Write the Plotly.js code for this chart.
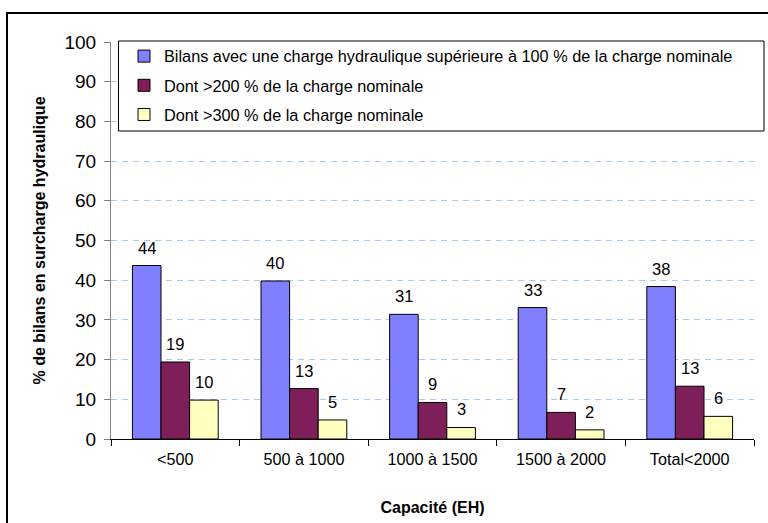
<!DOCTYPE html>
<html>
<head>
<meta charset="utf-8">
<script src="https://cdn.plot.ly/plotly-3.0.1.min.js"></script>
<style>
html,body{margin:0;padding:0;overflow:hidden;background:#fff;}
#chart{position:absolute;left:0;top:0;width:768px;height:523px;}
#frame{position:absolute;left:6px;top:12px;width:800px;height:600px;border:2px solid #000;pointer-events:none;}
</style>
</head>
<body>
<div id="chart"></div>
<div id="frame"></div>
<script>
const categories = ['<500', '500 à 1000', '1000 à 1500', '1500 à 2000', 'Total<2000'];
const seriesNames = [
  'Bilans avec une charge hydraulique supérieure à 100 % de la charge nominale',
  'Dont >200 % de la charge nominale',
  'Dont >300 % de la charge nominale'
];
const over100 = [43.7, 39.8, 31.4, 33.1, 38.4];
const over200 = [19.4, 12.7, 9.2, 6.7, 13.3];
const over300 = [9.8, 4.8, 2.9, 2.3, 5.7];
const colors = ['#8080FF', '#7F1F5A', '#FFFFC0'];

const seriesValues = [over100, over200, over300];
const font = 'Liberation Sans, Arial, sans-serif';

const traces = seriesValues.map((vals, i) => ({
  type: 'bar',
  name: seriesNames[i],
  x: categories,
  y: vals,
  legendgroup: 'g' + i,
  marker: {color: colors[i], line: {color: '#000', width: 1}},
  hoverinfo: 'skip'
}));

const plotL = 111, plotR = 14, plotT = 42, plotB = 84;
const plotW = 768 - plotL - plotR;
const plotH = 523 - plotT - plotB;
const bargap = 0.333;
const barW = plotW / categories.length * (1 - bargap) / 3;

const annotations = [];
seriesValues.forEach((vals, i) => {
  vals.forEach((v, j) => {
    annotations.push({
      x: categories[j], y: v, xref: 'x', yref: 'y',
      text: String(Math.round(v)),
      showarrow: false,
      xshift: (i - 1) * barW,
      yshift: 18,
      yanchor: 'middle',
      font: {family: font, size: 16.5, color: '#000'}
    });
  });
});

// legend frame (decoration), in paper coordinates
const px = v => (v - plotL) / plotW;
const py = v => (523 - plotB - v) / plotH;

const layout = {
  width: 768, height: 523,
  margin: {l: plotL, r: plotR, t: plotT, b: plotB, pad: 0},
  paper_bgcolor: '#fff', plot_bgcolor: '#fff',
  barmode: 'group', bargap: bargap, bargroupgap: 0,
  font: {family: font, color: '#000'},
  showlegend: true,
  legend: {
    x: px(124), y: py(39), xanchor: 'left', yanchor: 'top',
    bgcolor: 'rgba(0,0,0,0)', borderwidth: 0,
    font: {family: font, size: 16.3, color: '#000'},
    traceorder: 'grouped', tracegroupgap: 5
  },
  shapes: [{
    type: 'rect', xref: 'paper', yref: 'paper', layer: 'above',
    x0: px(118.5), x1: px(764), y0: py(131), y1: py(41),
    line: {color: '#000', width: 1}, fillcolor: '#fff'
  }],
  xaxis: {
    type: 'category', range: [-0.5, 4.5],
    tickson: 'boundaries', ticks: 'outside', ticklen: 6, tickcolor: '#000',
    showline: true, linecolor: '#000', linewidth: 1,
    ticklabelstandoff: 6,
    tickfont: {family: font, size: 16.2, color: '#000'},
    title: {text: '<b>Capacité (EH)</b>', font: {family: font, size: 16, color: '#000'}, standoff: 34},
    fixedrange: true
  },
  yaxis: {
    range: [0, 100], dtick: 10, tick0: 0,
    ticks: 'outside', ticklen: 6, tickcolor: '#808080',
    showline: true, linecolor: '#808080', linewidth: 1,
    showgrid: true, gridcolor: '#A8CCF0', griddash: '6px,5px', gridwidth: 1,
    zeroline: false,
    ticklabelstandoff: 4,
    tickfont: {family: font, size: 19, color: '#000'},
    title: {text: '<b>% de bilans en surcharge hydraulique</b>', font: {family: font, size: 16, color: '#000'}, standoff: 14},
    fixedrange: true
  },
  annotations: annotations
};

Plotly.newPlot('chart', traces, layout, {displayModeBar: false, staticPlot: true});
</script>
</body>
</html>
